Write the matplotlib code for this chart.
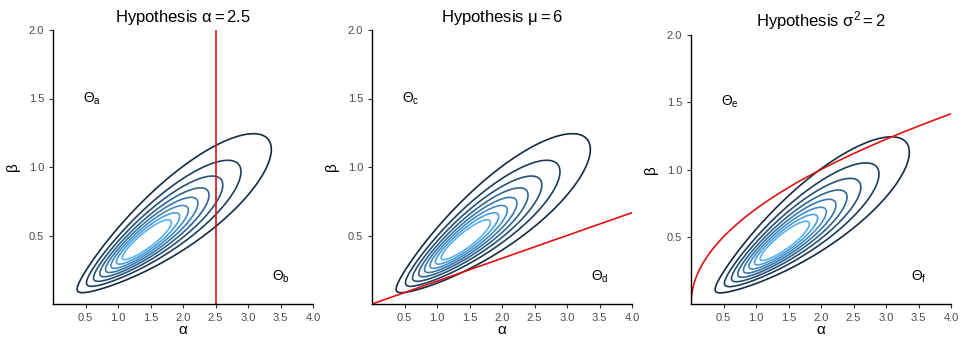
import numpy as np
import matplotlib
matplotlib.use("Agg")
import matplotlib.pyplot as plt
from matplotlib.colors import LinearSegmentedColormap

plt.rcParams['font.family'] = ['Liberation Sans', 'DejaVu Sans']
plt.rcParams['mathtext.fontset'] = 'custom'
plt.rcParams['mathtext.rm'] = 'Liberation Sans'
plt.rcParams['mathtext.it'] = 'Liberation Sans'

# Likelihood surface: normal in power-transformed (alpha^p, beta^p) space
power = 0.4
center_u = 1.148   # alpha^p at the peak
center_v = 0.730   # beta^p at the peak
sd_u = 0.224
sd_v = 0.170
rho = 0.885

# contour levels, relative to the peak
rel_levels = [0.105, 0.235, 0.36, 0.48, 0.59, 0.69, 0.78, 0.86]

titles = [r"Hypothesis $\mathrm{α} = 2.5$", r"Hypothesis $\mathrm{μ} = 6$",
          r"Hypothesis $\mathrm{σ}^2 = 2$"]
region_labels = [("a", "b"), ("c", "d"), ("e", "f")]
label_pos_top = (0.6, 1.5)
label_pos_bottom = (3.5, 0.2)
alpha_h0 = 2.5
mu_h0 = 6
var_h0 = 2

x_ticks = [0.5, 1.0, 1.5, 2.0, 2.5, 3.0, 3.5, 4.0]
y_ticks = [0.5, 1.0, 1.5, 2.0]

red = "#DD1111"
cmap = LinearSegmentedColormap.from_list("gg", ["#132B43", "#56B1F7"])

# surface on a grid
a = np.linspace(0.001, 4, 500)
b = np.linspace(0.001, 2, 500)
A, B = np.meshgrid(a, b)
zu = (A ** power - center_u) / sd_u
zv = (B ** power - center_v) / sd_v
q = (zu ** 2 - 2 * rho * zu * zv + zv ** 2) / (1 - rho ** 2)
rel = np.exp(-q / 2)

fig = plt.figure(figsize=(9.63, 3.4), dpi=100)
rects = [[53 / 963, 36 / 340, 260 / 963, 274 / 340],
         [372 / 963, 36 / 340, 260 / 963, 274 / 340],
         [691 / 963, 36 / 340, 260 / 963, 269 / 340]]

line_a = np.linspace(0, 4, 400)
colors = [cmap(k / (len(rel_levels) - 1)) for k in range(len(rel_levels))]
for i, rect in enumerate(rects):
    ax = fig.add_axes(rect)
    ax.contour(A, B, rel, levels=rel_levels, colors=colors, linewidths=1.2)

    if i == 0:
        ax.axvline(alpha_h0, color=red, lw=1.2)
    elif i == 1:
        ax.plot(line_a, line_a / mu_h0, color=red, lw=1.2)
    else:
        ax.plot(line_a, np.sqrt(line_a / var_h0), color=red, lw=1.2)

    la, lb = region_labels[i]
    ax.text(*label_pos_top, r"$\mathrm{Θ}_{\mathrm{%s}}$" % la, ha="center", va="center", fontsize=10)
    ax.text(*label_pos_bottom, r"$\mathrm{Θ}_{\mathrm{%s}}$" % lb, ha="center", va="center", fontsize=10)

    ax.set_xlim(0, 4)
    ax.set_ylim(0, 2)
    ax.set_xticks(x_ticks)
    ax.set_xticklabels([f"{t:.1f}" for t in x_ticks])
    ax.set_yticks(y_ticks)
    ax.set_yticklabels([f"{t:.1f}" for t in y_ticks])
    ax.tick_params(labelsize=8, colors="#333333", labelcolor="#4D4D4D", length=3, width=0.8)
    for s in ["top", "right"]:
        ax.spines[s].set_visible(False)
    for s in ["left", "bottom"]:
        ax.spines[s].set_linewidth(1.0)
    ax.set_xlabel("α", fontsize=11, labelpad=0)
    ax.set_ylabel("β", fontsize=11, labelpad=6)
    ax.set_title(titles[i], fontsize=12, pad=6)

fig.savefig("out.png", dpi=100)
